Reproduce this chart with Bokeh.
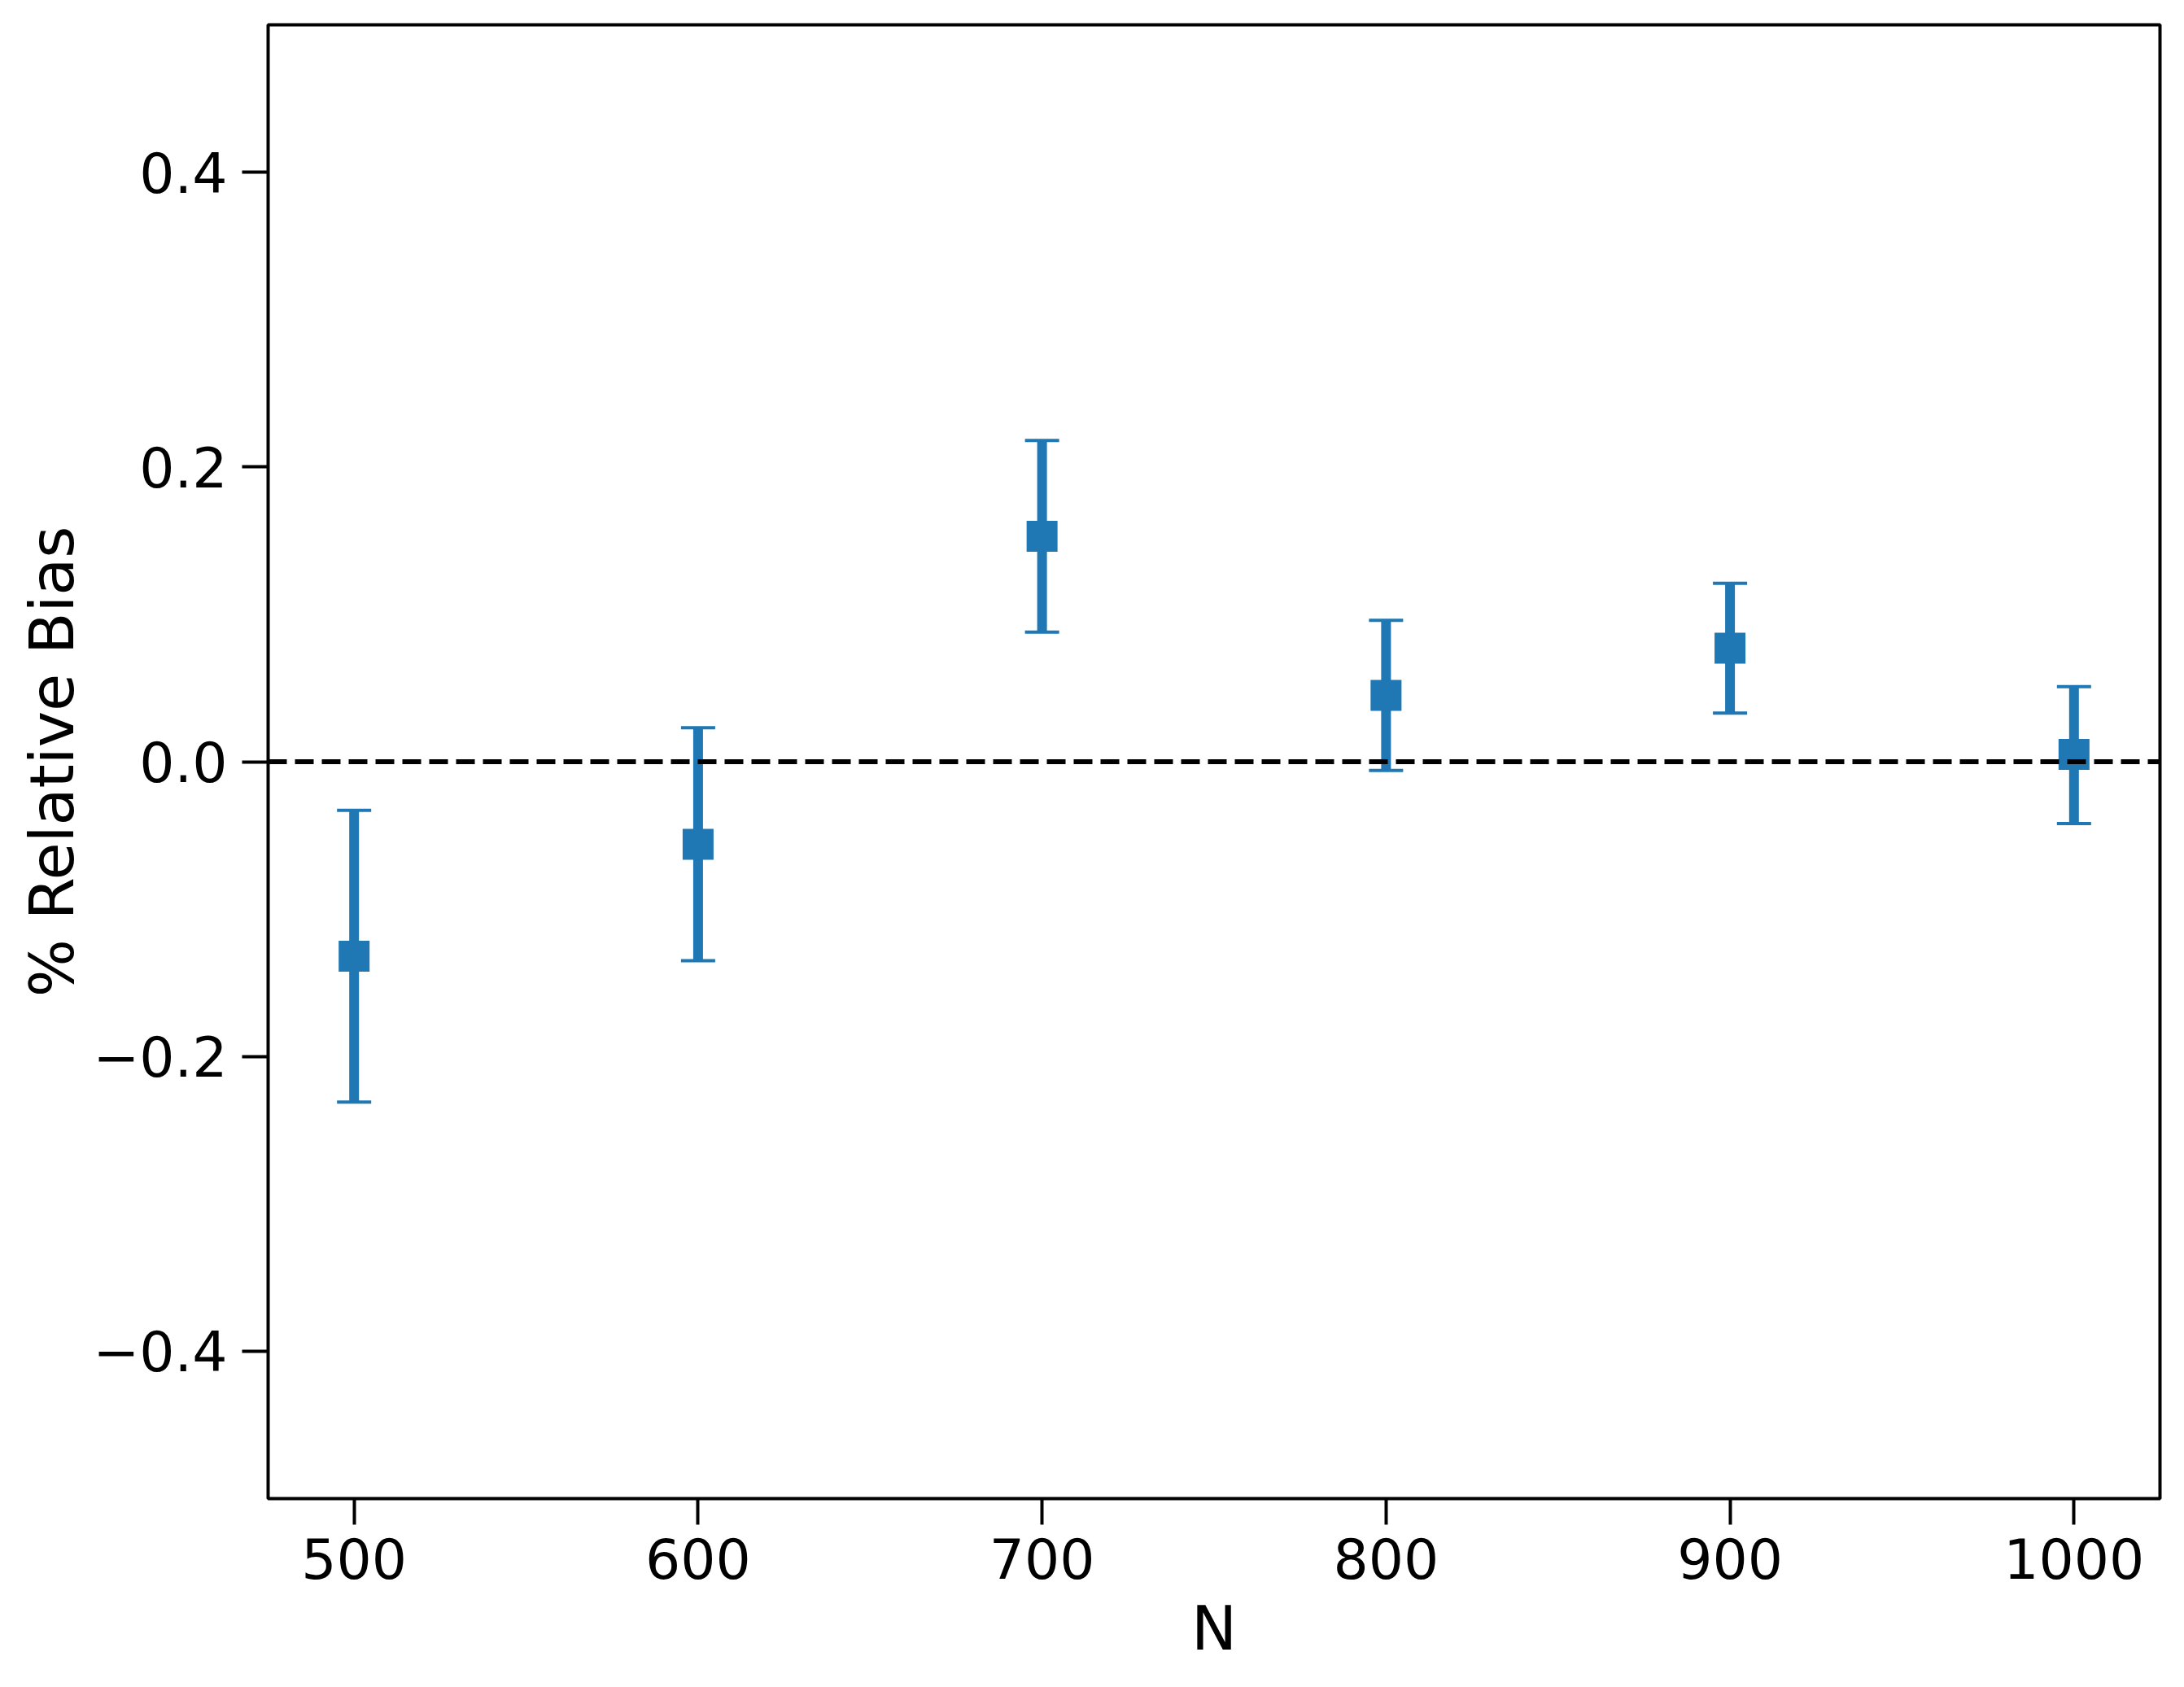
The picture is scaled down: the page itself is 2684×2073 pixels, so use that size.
from bokeh.plotting import figure
from bokeh.models import ColumnDataSource, Whisker, TeeHead, Span, FixedTicker, Range1d
from bokeh.embed import file_html
from bokeh.resources import INLINE

# Data
n_values = [500, 600, 700, 800, 900, 1000]
bias = [-0.132, -0.056, 0.153, 0.045, 0.077, 0.005]
bias_lower = [-0.231, -0.135, 0.088, -0.006, 0.033, -0.042]
bias_upper = [-0.033, 0.023, 0.218, 0.096, 0.121, 0.051]

x_ticks = [500, 600, 700, 800, 900, 1000]
y_ticks = [-0.4, -0.2, 0.0, 0.2, 0.4]
y_tick_labels = ["\u22120.4", "\u22120.2", "0.0", "0.2", "0.4"]

W, H = 2676, 2060
FL, FT, FR, FB = 329, 30, 2654, 1841

p = figure(width=W, height=H, output_backend="svg", toolbar_location=None,
           x_range=Range1d(475, 1025), y_range=Range1d(-0.5, 0.5),
           min_border_left=FL, min_border_top=FT,
           min_border_right=W - FR, min_border_bottom=H - FB)
p.background_fill_color = "white"
p.border_fill_color = "white"
p.outline_line_color = "black"
p.outline_line_width = 4
p.xgrid.visible = False
p.ygrid.visible = False

src = ColumnDataSource(dict(x=n_values, y=bias, lo=bias_lower, hi=bias_upper))

p.add_layout(Span(location=0, dimension="width", line_color="black",
                  line_width=6, line_dash="23 10"))

w = Whisker(base="x", upper="hi", lower="lo", source=src, dimension="height",
            line_color="#1f77b4", line_width=12,
            upper_head=TeeHead(size=42, line_width=4, line_color="#1f77b4"),
            lower_head=TeeHead(size=42, line_width=4, line_color="#1f77b4"))
p.add_layout(w)

p.scatter("x", "y", source=src, marker="square", size=38,
          fill_color="#1f77b4", line_color="#1f77b4", line_width=0)

for ax in (p.xaxis[0], p.yaxis[0]):
    ax.axis_line_color = None
    ax.major_tick_line_color = "black"
    ax.major_tick_line_width = 4
    ax.major_tick_out = 32
    ax.major_tick_in = 0
    ax.minor_tick_line_color = None
    ax.major_label_text_font = "DejaVu Sans"
    ax.major_label_text_font_size = "68px"
    ax.major_label_text_color = "black"
    ax.axis_label_text_font = "DejaVu Sans"
    ax.axis_label_text_font_size = "75px"
    ax.axis_label_text_font_style = "normal"
    ax.axis_label_text_color = "black"

p.xaxis[0].ticker = FixedTicker(ticks=x_ticks)
p.yaxis[0].ticker = FixedTicker(ticks=y_ticks)
p.yaxis[0].major_label_overrides = {t: l for t, l in zip(y_ticks, y_tick_labels)}
p.xaxis[0].major_label_standoff = 16
p.yaxis[0].major_label_standoff = 18
p.xaxis[0].axis_label = "N"
p.yaxis[0].axis_label = "% Relative Bias"
p.xaxis[0].axis_label_standoff = 14
p.yaxis[0].axis_label_standoff = 3

open("out.html", "w").write(file_html(p, INLINE))
